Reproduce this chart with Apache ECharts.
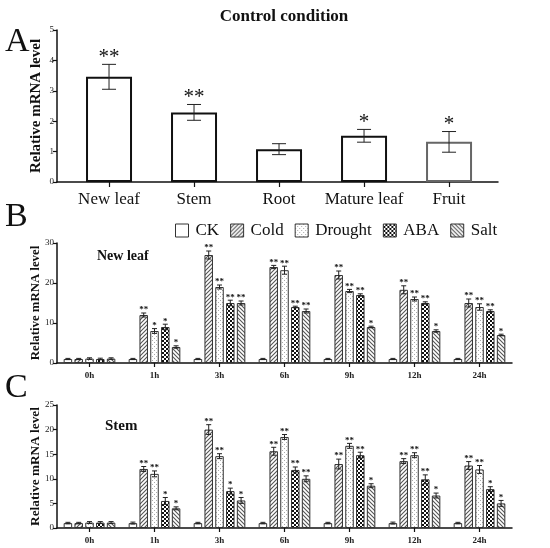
<!DOCTYPE html>
<html>
<head>
<meta charset="utf-8">
<script src="https://cdn.jsdelivr.net/npm/echarts@6/dist/echarts.min.js"></script>
<style>
  html, body { margin: 0; padding: 0; background: #fff; }
  #main { width: 550px; height: 548px; }
</style>
</head>
<body>
<div id="main"></div>
<script>
// panel A: control condition
const tissues = ['New leaf', 'Stem', 'Root', 'Mature leaf', 'Fruit'];
const tissueMean = [3.46, 2.29, 1.08, 1.52, 1.32];
const tissueErr = [0.41, 0.26, 0.18, 0.21, 0.34];
const tissueSig = ['**', '**', '', '*', '*'];

const times = ['0h', '1h', '3h', '6h', '9h', '12h', '24h'];
const treatments = ['CK', 'Cold', 'Drought', 'ABA', 'Salt'];

// panel B: new leaf
const leafCK = [1, 1, 1, 1, 1, 1, 1];
const leafCold = [1, 12, 27, 24, 22, 18.3, 15];
const leafDrought = [1.1, 8, 19, 23.2, 18, 16, 14];
const leafABA = [1, 9, 15, 14, 17, 15, 13];
const leafSalt = [1.1, 4, 15, 13, 9, 8, 7];
const leafCKErr = [0.15, 0.15, 0.15, 0.15, 0.15, 0.15, 0.15];
const leafColdErr = [0.15, 0.5, 1.0, 0.4, 1.0, 1.0, 1.0];
const leafDroughtErr = [0.2, 0.6, 0.5, 1.0, 0.4, 0.5, 0.8];
const leafABAErr = [0.2, 0.7, 0.7, 0.2, 0.3, 0.3, 0.3];
const leafSaltErr = [0.2, 0.3, 0.5, 0.5, 0.2, 0.3, 0.2];
const leafCKSig = ['', '', '', '', '', '', ''];
const leafColdSig = ['', '**', '**', '**', '**', '**', '**'];
const leafDroughtSig = ['', '*', '**', '**', '**', '**', '**'];
const leafABASig = ['', '*', '**', '**', '**', '**', '**'];
const leafSaltSig = ['', '*', '**', '**', '*', '*', '*'];

// panel C: stem
const stemCK = [1, 1, 1, 1, 1, 1, 1];
const stemCold = [1, 12, 20, 15.6, 13, 13.6, 12.7];
const stemDrought = [1.1, 11, 14.6, 18.5, 16.7, 14.8, 11.9];
const stemABA = [1.1, 5.5, 7.5, 11.8, 14.8, 9.9, 7.9];
const stemSalt = [1.1, 4, 5.6, 10, 8.6, 6.6, 5];
const stemCKErr = [0.15, 0.2, 0.15, 0.15, 0.15, 0.2, 0.15];
const stemColdErr = [0.15, 0.5, 1.0, 0.8, 1.0, 0.5, 0.8];
const stemDroughtErr = [0.2, 0.6, 0.5, 0.5, 0.5, 0.5, 0.8];
const stemABAErr = [0.2, 0.7, 0.6, 0.6, 0.6, 0.9, 0.5];
const stemSaltErr = [0.2, 0.3, 0.6, 0.6, 0.4, 0.5, 0.6];
const stemCKSig = ['', '', '', '', '', '', ''];
const stemColdSig = ['', '**', '**', '**', '**', '**', '**'];
const stemDroughtSig = ['', '**', '**', '**', '**', '**', '**'];
const stemABASig = ['', '*', '*', '**', '**', '**', '*'];
const stemSaltSig = ['', '*', '*', '**', '*', '*', '*'];

const leafData = [leafCK, leafCold, leafDrought, leafABA, leafSalt];
const leafErr = [leafCKErr, leafColdErr, leafDroughtErr, leafABAErr, leafSaltErr];
const leafSig = [leafCKSig, leafColdSig, leafDroughtSig, leafABASig, leafSaltSig];
const stemData = [stemCK, stemCold, stemDrought, stemABA, stemSalt];
const stemErr = [stemCKErr, stemColdErr, stemDroughtErr, stemABAErr, stemSaltErr];
const stemSig = [stemCKSig, stemColdSig, stemDroughtSig, stemABASig, stemSaltSig];

const SERIF = 'Liberation Serif';
const BAR_W = 8.5;
const BAR_GAP = 0.27;

// fill patterns for the treatments
function makePattern (kind) {
  const c = document.createElement('canvas')
  c.width = c.height = 4
  const g = c.getContext('2d')
  g.fillStyle = '#fff'
  g.fillRect(0, 0, 4, 4)
  if (kind === 'Cold' || kind === 'Salt') {
    g.strokeStyle = '#555'
    g.lineWidth = 1.1
    g.beginPath()
    if (kind === 'Cold') {
      g.moveTo(-1, 5); g.lineTo(5, -1)
      g.moveTo(-1, 1); g.lineTo(1, -1)
      g.moveTo(3, 5); g.lineTo(5, 3)
    } else {
      g.moveTo(-1, -1); g.lineTo(5, 5)
      g.moveTo(3, -1); g.lineTo(5, 1)
      g.moveTo(-1, 3); g.lineTo(1, 5)
    }
    g.stroke()
  } else if (kind === 'Drought') {
    g.fillStyle = '#aaa'
    g.fillRect(0, 0, 1, 1)
    g.fillRect(2, 2, 1, 1)
  } else if (kind === 'ABA') {
    g.fillStyle = '#111'
    g.fillRect(0, 0, 4, 4)
    g.fillStyle = '#fff'
    g.fillRect(0, 0, 2, 2)
    g.fillRect(2, 2, 2, 2)
  }
  if (kind === 'CK') return '#fff'
  return { image: c, repeat: 'repeat' }
}

// error bar + significance marks drawn at the bar positions
function errRender (offset, errs, sigs, capHalf, font, starLift) {
  return function (params, api) {
    const j = api.value(0)
    const m = api.value(1)
    const e = errs[params.dataIndex]
    const top = api.coord([j, m + e])
    const bot = api.coord([j, m - e])
    const x = top[0] + offset
    const st = { stroke: '#222', lineWidth: 1 }
    const children = [
      { type: 'line', shape: { x1: x, y1: top[1], x2: x, y2: bot[1] }, style: st },
      { type: 'line', shape: { x1: x - capHalf, y1: top[1], x2: x + capHalf, y2: top[1] }, style: st },
      { type: 'line', shape: { x1: x - capHalf, y1: bot[1], x2: x + capHalf, y2: bot[1] }, style: st }
    ]
    const s = sigs[params.dataIndex]
    if (s) {
      children.push({
        type: 'text',
        style: {
          text: s, x: x, y: top[1] - starLift,
          align: 'center', verticalAlign: 'middle',
          font: font, fill: '#111'
        }
      })
    }
    return { type: 'group', children: children }
  }
}

const chart = echarts.init(document.getElementById('main'))

const series = []

// panel A bars
series.push({
  type: 'bar',
  xAxisIndex: 0,
  yAxisIndex: 0,
  barWidth: 46,
  data: tissueMean.map((v, i) => ({
    value: [i, v],
    itemStyle: { color: '#fff', borderColor: i === 4 ? '#666' : '#111', borderWidth: 2 }
  })),
  silent: true
})
series.push({
  type: 'custom',
  xAxisIndex: 0,
  yAxisIndex: 0,
  z: 5,
  clip: false,
  renderItem: errRender(0, tissueErr, tissueSig, 7, '21px ' + SERIF, 7),
  data: tissueMean.map((v, i) => [i, v]),
  silent: true
})

function addPanel (axisIdx, data, errs, sigs) {
  treatments.forEach((name, i) => {
    series.push({
      type: 'bar',
      name: name,
      xAxisIndex: axisIdx,
      yAxisIndex: axisIdx,
      barWidth: BAR_W,
      barGap: (BAR_GAP * 100) + '%',
      itemStyle: { color: makePattern(name), borderColor: '#333', borderWidth: 1 },
      data: data[i],
      silent: true
    })
  })
  treatments.forEach((name, i) => {
    const off = (i - 2) * BAR_W * (1 + BAR_GAP)
    series.push({
      type: 'custom',
      xAxisIndex: axisIdx,
      yAxisIndex: axisIdx,
      z: 5,
      clip: false,
      renderItem: errRender(off, errs[i], sigs[i], 2.5, 'bold 9px ' + SERIF, 3),
      data: data[i].map((v, j) => [j, v]),
      silent: true
    })
  })
}
addPanel(1, leafData, leafErr, leafSig)
addPanel(2, stemData, stemErr, stemSig)

const axisLine = { lineStyle: { color: '#111', width: 1.5 } }
const tickStyle = { lineStyle: { color: '#111', width: 1.2 } }
const smallLabel = { color: '#222', fontFamily: SERIF, fontSize: 9 }

function yAxisFor (gridIdx, max, interval, nameSize, gap) {
  return {
    type: 'value',
    gridIndex: gridIdx,
    min: 0,
    max: max,
    interval: interval,
    name: 'Relative mRNA level',
    nameLocation: 'middle',
    nameRotate: 90,
    nameGap: gap,
    nameMoveOverlap: false,
    nameTextStyle: { fontFamily: SERIF, fontWeight: 'bold', fontSize: nameSize, color: '#111' },
    axisLine: { show: true, onZero: false, ...axisLine },
    axisTick: { show: true, length: 4, ...tickStyle },
    axisLabel: { ...smallLabel, margin: 3 },
    splitLine: { show: false }
  }
}

function timeAxis (gridIdx) {
  return {
    type: 'category',
    gridIndex: gridIdx,
    data: times,
    axisLine: axisLine,
    axisTick: { show: true, alignWithLabel: true, length: 4, ...tickStyle },
    axisLabel: { ...smallLabel, fontWeight: 'bold', margin: 8 }
  }
}

chart.setOption({
  animation: false,
  backgroundColor: '#fff',
  title: [
    { text: 'Control condition', left: 279, top: 3, textAlign: 'center',
      textStyle: { fontFamily: SERIF, fontWeight: 'bold', fontSize: 17, color: '#111' } },
    { text: 'A', left: 0, top: 20, textStyle: { fontFamily: SERIF, fontWeight: 'normal', fontSize: 34, color: '#111' } },
    { text: 'B', left: 0, top: 195, textStyle: { fontFamily: SERIF, fontWeight: 'normal', fontSize: 34, color: '#111' } },
    { text: 'C', left: 0, top: 366, textStyle: { fontFamily: SERIF, fontWeight: 'normal', fontSize: 34, color: '#111' } },
    { text: 'New leaf', left: 92, top: 244, textStyle: { fontFamily: SERIF, fontWeight: 'bold', fontSize: 14, color: '#111' } },
    { text: 'Stem', left: 100, top: 414, textStyle: { fontFamily: SERIF, fontWeight: 'bold', fontSize: 15, color: '#111' } }
  ],
  legend: {
    data: treatments,
    left: 170,
    top: 217,
    itemWidth: 13,
    itemHeight: 13,
    itemGap: 11,
    icon: 'rect',
    selectedMode: false,
    itemStyle: { borderColor: '#333', borderWidth: 1 },
    textStyle: { fontFamily: SERIF, fontSize: 17, color: '#111', padding: [0, 0, 0, 2] }
  },
  grid: [
    { left: 57, right: 52, top: 30, height: 152 },
    { left: 57, right: 38, top: 243, height: 120 },
    { left: 57, right: 38, top: 405, height: 123 }
  ],
  xAxis: [
    {
      type: 'value',
      gridIndex: 0,
      min: -0.612,
      max: 4.576,
      splitLine: { show: false },
      axisLine: { onZero: false, ...axisLine },
      axisTick: { show: true, length: 5, customValues: [0, 1, 2, 3, 4], ...tickStyle },
      axisLabel: {
        customValues: [0, 1, 2, 3, 4],
        formatter: v => tissues[Math.round(v)],
        fontFamily: SERIF, fontSize: 17, color: '#111', margin: 9
      }
    },
    timeAxis(1),
    timeAxis(2)
  ],
  yAxis: [
    yAxisFor(0, 5, 1, 15, 13),
    yAxisFor(1, 30, 10, 12.8, 15),
    yAxisFor(2, 25, 5, 13.3, 15)
  ],
  series: series
})
</script>
</body>
</html>
